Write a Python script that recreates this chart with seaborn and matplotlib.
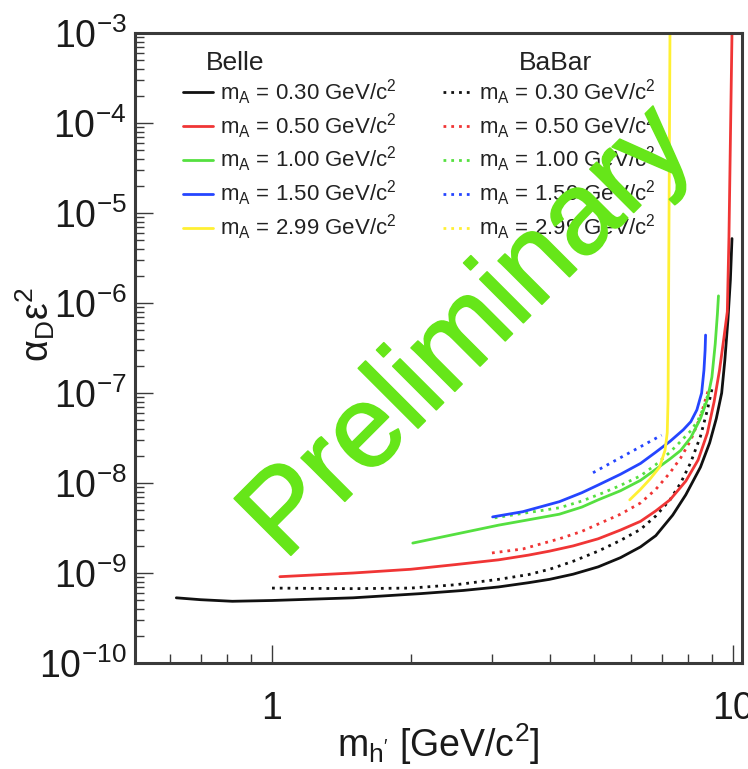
import numpy as np
import pandas as pd
import matplotlib
matplotlib.use("Agg")
import matplotlib.pyplot as plt
import matplotlib.patheffects as pe
import seaborn as sns
from matplotlib.lines import Line2D
from matplotlib.ticker import FixedLocator, NullFormatter

# ---- exclusion limits on alpha_D * eps^2 vs dark Higgs mass ----
mass_labels = ["0.30", "0.50", "1.00", "1.50", "2.99"]
colors = ["#111111", "#f03535", "#55e040", "#2545ff", "#fff033"]

# Belle (solid)
belle_030_m = [0.62, 0.70, 0.82, 1.0, 1.5, 2.1, 2.6, 3.1, 3.6, 4.0, 4.5, 5.1, 5.7, 6.3,
               6.8, 7.4, 7.9, 8.5, 8.9, 9.2, 9.45, 9.6, 9.75, 9.87, 9.95]
belle_030_y = [5.3e-10, 5.05e-10, 4.85e-10, 4.95e-10, 5.3e-10, 5.9e-10, 6.4e-10, 7.0e-10,
               7.8e-10, 8.5e-10, 9.7e-10, 1.17e-9, 1.48e-9, 1.95e-9, 2.6e-9, 4.4e-9,
               7.4e-9, 1.5e-8, 2.8e-8, 5.2e-8, 1.0e-7, 2.3e-7, 6.5e-7, 1.8e-6, 5.2e-6]
belle_050_m = [1.04, 1.5, 2.0, 2.5, 3.1, 3.6, 4.0, 4.5, 5.1, 5.7, 6.3, 6.8, 7.3, 7.9,
               8.4, 8.8, 9.1, 9.35, 9.55, 9.72, 9.8, 9.88, 9.95]
belle_050_y = [9.1e-10, 1.0e-9, 1.1e-9, 1.24e-9, 1.4e-9, 1.58e-9, 1.75e-9, 2.0e-9,
               2.4e-9, 3.0e-9, 3.75e-9, 4.9e-9, 6.5e-9, 1.05e-8, 1.8e-8, 3.6e-8, 8.0e-8,
               1.8e-7, 4.0e-7, 8.0e-7, 5.4e-6, 8.8e-5, 1.0e-3]
belle_100_m = [2.02, 2.5, 3.1, 3.6, 4.2, 4.7, 5.1, 5.7, 6.3, 6.9, 7.3, 7.7, 8.1, 8.5,
               8.8, 9.0, 9.15, 9.25, 9.3]
belle_100_y = [2.15e-9, 2.7e-9, 3.4e-9, 3.9e-9, 4.5e-9, 5.4e-9, 6.5e-9, 8.2e-9, 1.07e-8,
               1.5e-8, 1.85e-8, 2.3e-8, 3.2e-8, 5.2e-8, 8.5e-8, 1.5e-7, 3.5e-7, 7.5e-7,
               1.2e-6]
belle_150_m = [3.01, 3.5, 4.2, 4.7, 5.1, 5.7, 6.3, 6.8, 7.3, 7.8, 8.1, 8.35, 8.55, 8.65,
               8.7, 8.72]
belle_150_y = [4.2e-9, 4.8e-9, 6.2e-9, 7.8e-9, 9.5e-9, 1.25e-8, 1.65e-8, 2.2e-8, 2.9e-8,
               3.9e-8, 4.8e-8, 6.5e-8, 1.0e-7, 1.8e-7, 3.0e-7, 4.4e-7]
belle_299_m = [5.97, 6.3, 6.6, 6.93, 7.12, 7.2, 7.23, 7.3]
belle_299_y = [6.5e-9, 8.5e-9, 1.1e-8, 1.5e-8, 2.3e-8, 3.6e-8, 8.3e-8, 1.0e-3]

# BaBar (dotted)
babar_030_m = [1.0, 1.5, 2.0, 2.5, 3.1, 3.6, 4.0, 4.5, 5.1, 5.7, 6.3, 6.8, 7.3, 7.7,
               8.1, 8.5, 8.8, 9.0]
babar_030_y = [6.8e-10, 6.7e-10, 6.8e-10, 7.4e-10, 8.5e-10, 9.6e-10, 1.1e-9, 1.35e-9,
               1.75e-9, 2.3e-9, 3.05e-9, 4.3e-9, 6.5e-9, 1.0e-8, 1.7e-8, 3.3e-8, 6.5e-8,
               1.1e-7]
babar_050_m = [3.0, 3.5, 4.2, 4.7, 5.1, 5.7, 6.3, 6.8, 7.3, 7.7, 8.1, 8.5, 8.85]
babar_050_y = [1.67e-9, 1.85e-9, 2.4e-9, 2.9e-9, 3.5e-9, 4.5e-9, 6.0e-9, 8.5e-9, 1.3e-8,
               1.9e-8, 3.0e-8, 5.5e-8, 1.1e-7]
babar_100_m = [3.04, 3.5, 4.2, 4.7, 5.2, 5.7, 6.3, 6.8, 7.3, 7.7, 8.1, 8.4, 8.65, 8.9]
babar_100_y = [4.1e-9, 4.6e-9, 5.3e-9, 6.3e-9, 7.7e-9, 9.4e-9, 1.2e-8, 1.6e-8, 2.2e-8,
               2.9e-8, 3.8e-8, 5.0e-8, 7.0e-8, 1.1e-7]
babar_150_m = [4.97, 5.5, 6.2, 7.0]
babar_150_y = [1.3e-8, 1.73e-8, 2.42e-8, 3.4e-8]

belle_curves = [(belle_030_m, belle_030_y), (belle_050_m, belle_050_y),
                (belle_100_m, belle_100_y), (belle_150_m, belle_150_y),
                (belle_299_m, belle_299_y)]
babar_curves = [(babar_030_m, babar_030_y), (babar_050_m, babar_050_y),
                (babar_100_m, babar_100_y), (babar_150_m, babar_150_y)]

y_decades = list(range(-10, -2))
x_major = [1, 10]
x_major_labels = ["1", "10"]

# ---- style ----
sns.set_theme(style="white")
plt.rcParams["font.family"] = ["Liberation Sans", "DejaVu Sans"]
plt.rcParams["mathtext.fontset"] = "custom"
plt.rcParams["mathtext.rm"] = "Liberation Sans"
plt.rcParams["mathtext.it"] = "Liberation Sans:italic"
plt.rcParams["mathtext.default"] = "regular"

DOT = (0, (1.0, 1.8))
LW = 2.0

fig = plt.figure(figsize=(7.48, 7.69), dpi=100)
ax = fig.add_axes([135 / 748, 106 / 769, 607 / 748, 630 / 769])

for (m, y), c in zip(babar_curves, colors):
    sns.lineplot(x=m, y=y, ax=ax, color=c, lw=LW, linestyle=DOT,
                 estimator=None, sort=False, legend=False)
for (m, y), c in zip(belle_curves, colors):
    sns.lineplot(x=m, y=y, ax=ax, color=c, lw=LW, estimator=None,
                 sort=False, legend=False)

ax.set_xscale("log")
ax.set_yscale("log")
ax.set_xlim(0.5044, 10.46)
ax.set_ylim(1e-10, 1e-3)

ax.xaxis.set_major_locator(FixedLocator(x_major))
ax.xaxis.set_ticklabels(x_major_labels)
ax.xaxis.set_minor_locator(FixedLocator([0.6, 0.7, 0.8, 0.9] + list(range(2, 10))))
ax.xaxis.set_minor_formatter(NullFormatter())

yt = [10.0 ** e for e in y_decades]
ax.yaxis.set_major_locator(FixedLocator(yt))
ax.yaxis.set_ticklabels([f"$10^{{{e}}}$" for e in y_decades])
ax.yaxis.set_minor_locator(FixedLocator([k * 10.0 ** e for e in y_decades[:-1] for k in range(2, 10)]))
ax.yaxis.set_minor_formatter(NullFormatter())

frame_c = "#3a3a3a"
ax.tick_params(axis="both", which="both", direction="in", bottom=True, left=True,
               top=False, right=False, color=frame_c, width=1.0, labelcolor="#1a1a1a")
ax.tick_params(axis="both", which="major", length=13, labelsize=27)
ax.tick_params(axis="both", which="minor", length=6.5)
ax.tick_params(axis="x", which="major", pad=20)
ax.tick_params(axis="y", which="major", pad=6)
for s in ax.spines.values():
    s.set_color(frame_c)
    s.set_linewidth(2.2)

ax.set_xlabel("m$_{h'}$ [GeV/c$^{2}$]", fontsize=27, color="#1a1a1a")
ax.xaxis.set_label_coords(0.5, -0.092)
ax.set_ylabel(r"$\alpha_{D}\epsilon^{2}$", fontsize=27, color="#1a1a1a")
ax.yaxis.set_label_coords(-0.128, 0.537)

# ---- legends ----
entry_labels = [f"m$_{{A}}$ = {s} GeV/c$^{{2}}$" for s in mass_labels]
belle_handles = [Line2D([], [], color=c, lw=LW) for c in colors]
babar_handles = [Line2D([], [], color=c, lw=LW, linestyle=DOT) for c in colors]
leg_kw = dict(loc="upper left", frameon=False, fontsize=16, borderpad=0,
              borderaxespad=0, handlelength=1.35, handletextpad=0.3,
              labelspacing=0.2, labelcolor="#222222")
leg1 = ax.legend(belle_handles, entry_labels, bbox_to_anchor=(0.079, 0.93), **leg_kw)
ax.add_artist(leg1)
ax.legend(babar_handles, entry_labels, bbox_to_anchor=(0.507, 0.93), **leg_kw)
ax.text(0.165, 0.953, "Belle", transform=ax.transAxes, fontsize=19,
        ha="center", va="center", color="#222222")
ax.text(0.692, 0.953, "BaBar", transform=ax.transAxes, fontsize=19,
        ha="center", va="center", color="#222222")

# ---- watermark ----
wm_color = "#66e619"
ax.text(0.55, 0.522, "Preliminary", transform=ax.transAxes, rotation=45,
        rotation_mode="anchor", ha="center", va="center", fontsize=84,
        color=wm_color, zorder=20,
        path_effects=[pe.withStroke(linewidth=1.2, foreground=wm_color)])

fig.savefig("out.png", dpi=100)
